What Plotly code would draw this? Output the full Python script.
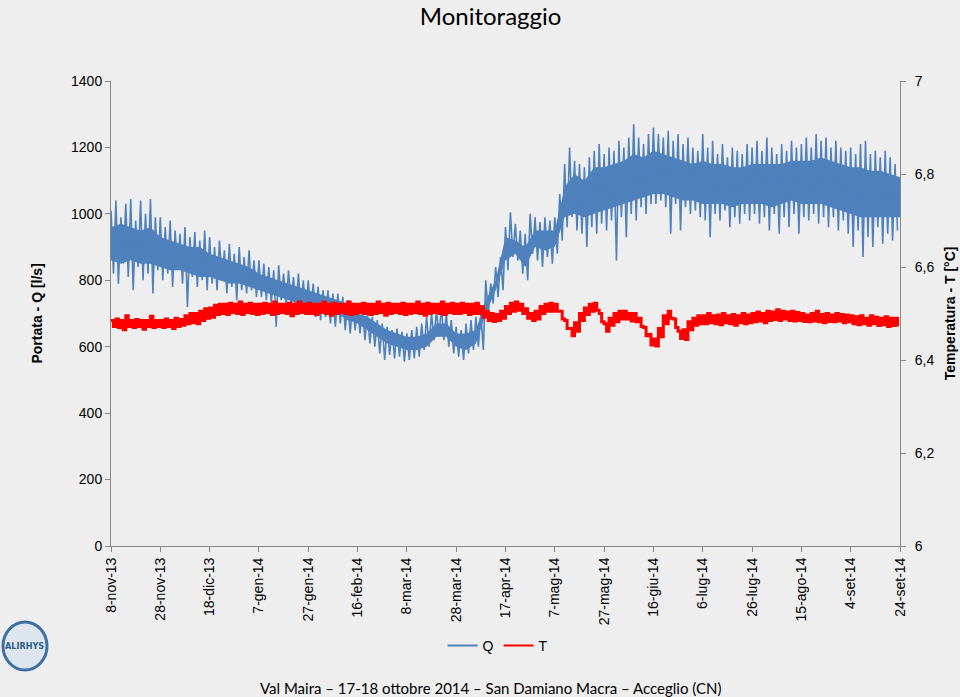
import pandas as pd
import plotly.graph_objects as go

# daily readings, one pair (peak, trough) every 2 days starting 8-nov-13
start_date = "2013-11-08"

q_hi = [1010, 1040, 990, 1030, 1045, 980, 1040, 1000, 1045, 990,
        990, 960, 980, 950, 940, 960, 930, 945, 920, 950,
        930, 900, 920, 890, 910, 880, 900, 870, 890, 860,
        860, 850, 840, 830, 845, 820, 830, 810, 820, 800,
        800, 790, 780, 770, 770, 760, 760, 750, 740, 730,
        720, 710, 700, 690, 680, 670, 660, 650, 655, 645,
        640, 650, 660, 670, 690, 700, 710, 720, 700, 680,
        660, 650, 670, 680, 690, 700, 800, 790, 840, 870,
        960, 1005, 970, 950, 940, 1000, 990, 975, 990, 980,
        990, 1060, 1150, 1200, 1160, 1150, 1140, 1170, 1190, 1210,
        1180, 1200, 1190, 1220, 1200, 1230, 1270, 1230, 1210, 1240,
        1260, 1240, 1230, 1250, 1220, 1240, 1210, 1230, 1200, 1190,
        1240, 1200, 1220, 1180, 1210, 1170, 1200, 1190, 1180, 1210,
        1200, 1220, 1190, 1230, 1200, 1180, 1210, 1190, 1220, 1200,
        1210, 1230, 1200, 1240, 1220, 1230, 1200, 1220, 1200, 1190,
        1200, 1180, 1210, 1220, 1180, 1190, 1170, 1190, 1170, 1150]

q_lo = [820, 790, 850, 810, 770, 840, 800, 820, 760, 830,
        800, 820, 780, 830, 790, 720, 810, 780, 800, 770,
        790, 770, 800, 760, 780, 740, 770, 760, 770, 750,
        750, 740, 730, 660, 740, 720, 730, 710, 720, 700,
        700, 690, 680, 690, 670, 660, 670, 650, 640, 650,
        640, 620, 610, 600, 580, 560, 575, 565, 570, 555,
        560, 565, 570, 590, 600, 620, 630, 620, 600, 580,
        570, 560, 580, 590, 600, 590, 700, 730, 750, 770,
        830, 870, 860, 820, 800, 880, 860, 840, 870, 850,
        880, 920, 960, 990, 950, 940, 900, 960, 940, 970,
        950, 980, 860, 990, 930, 1000, 980, 1020, 1000, 1030,
        1030, 1040, 1020, 940, 1030, 950, 1020, 1000, 1010, 990,
        980, 930, 1000, 980, 1010, 960, 990, 970, 1000, 980,
        1000, 970, 990, 950, 1000, 940, 990, 960, 1000, 940,
        990, 980, 1000, 970, 990, 960, 990, 950, 980, 940,
        900, 950, 870, 930, 900, 960, 910, 940, 920, 950]

# dense part of the Q band, every 4 days
q_core_hi = [960, 970, 960, 950, 960, 930, 920, 910, 900, 900,
             880, 870, 860, 850, 840, 820, 810, 800, 790, 780,
             770, 760, 750, 740, 730, 700, 690, 670, 650, 640,
             630, 630, 640, 670, 670, 640, 640, 650, 740, 800,
             930, 920, 900, 950, 950, 950, 1080, 1120, 1100, 1140,
             1140, 1150, 1160, 1180, 1170, 1190, 1180, 1170, 1160, 1150,
             1160, 1150, 1150, 1140, 1140, 1150, 1150, 1150, 1150, 1160,
             1160, 1160, 1170, 1160, 1150, 1140, 1140, 1130, 1130, 1120, 1110]
q_core_lo = [860, 850, 860, 850, 850, 840, 830, 830, 820, 810,
             810, 800, 790, 790, 780, 770, 760, 750, 740, 730,
             720, 710, 700, 700, 680, 670, 650, 630, 610, 600,
             590, 590, 600, 630, 630, 600, 590, 610, 700, 770,
             860, 880, 840, 900, 890, 900, 990, 1000, 990, 1000,
             1010, 1020, 1030, 1040, 1050, 1060, 1060, 1050, 1040, 1040,
             1030, 1030, 1030, 1020, 1030, 1030, 1030, 1020, 1030, 1040,
             1030, 1030, 1030, 1020, 1010, 1000, 990, 990, 990, 990, 990]

t_hi = [6.485, 6.488, 6.485, 6.495, 6.485, 6.487, 6.485, 6.485, 6.494, 6.485,
        6.485, 6.488, 6.485, 6.490, 6.487, 6.495, 6.500, 6.500, 6.505, 6.510,
        6.512, 6.518, 6.520, 6.520, 6.522, 6.520, 6.525, 6.520, 6.522, 6.520,
        6.520, 6.522, 6.520, 6.525, 6.520, 6.520, 6.522, 6.520, 6.525, 6.520,
        6.522, 6.520, 6.520, 6.525, 6.520, 6.522, 6.520, 6.520, 6.525, 6.520,
        6.520, 6.522, 6.520, 6.520, 6.525, 6.520, 6.522, 6.520, 6.520, 6.522,
        6.520, 6.520, 6.525, 6.520, 6.522, 6.520, 6.520, 6.525, 6.520, 6.522,
        6.520, 6.522, 6.520, 6.520, 6.522, 6.515, 6.505, 6.500, 6.498, 6.505,
        6.515, 6.522, 6.525, 6.520, 6.510, 6.500, 6.505, 6.515, 6.520, 6.522,
        6.520, 6.505, 6.485, 6.468, 6.480, 6.500, 6.512, 6.520, 6.522, 6.500,
        6.478, 6.490, 6.500, 6.505, 6.505, 6.500, 6.500, 6.490, 6.470, 6.455,
        6.445, 6.468, 6.495, 6.505, 6.488, 6.462, 6.465, 6.482, 6.490, 6.495,
        6.495, 6.500, 6.495, 6.497, 6.500, 6.495, 6.498, 6.495, 6.500, 6.497,
        6.500, 6.503, 6.500, 6.505, 6.503, 6.508, 6.505, 6.503, 6.505, 6.502,
        6.500, 6.497, 6.500, 6.505, 6.498, 6.500, 6.497, 6.500, 6.498, 6.497,
        6.495, 6.493, 6.495, 6.490, 6.495, 6.492, 6.490, 6.493, 6.490, 6.490]

t_lo = [6.472, 6.470, 6.465, 6.472, 6.470, 6.472, 6.466, 6.472, 6.470, 6.472,
        6.470, 6.472, 6.468, 6.472, 6.475, 6.478, 6.480, 6.478, 6.485, 6.490,
        6.492, 6.498, 6.500, 6.498, 6.502, 6.500, 6.498, 6.502, 6.500, 6.498,
        6.500, 6.502, 6.498, 6.500, 6.502, 6.500, 6.495, 6.500, 6.502, 6.500,
        6.500, 6.498, 6.502, 6.500, 6.496, 6.500, 6.502, 6.500, 6.498, 6.500,
        6.502, 6.500, 6.498, 6.500, 6.502, 6.496, 6.500, 6.502, 6.500, 6.498,
        6.500, 6.502, 6.500, 6.496, 6.500, 6.502, 6.500, 6.498, 6.502, 6.500,
        6.500, 6.502, 6.498, 6.500, 6.500, 6.492, 6.485, 6.483, 6.485, 6.490,
        6.500, 6.505, 6.507, 6.500, 6.490, 6.485, 6.488, 6.500, 6.505, 6.505,
        6.505, 6.488, 6.468, 6.452, 6.462, 6.485, 6.498, 6.505, 6.507, 6.482,
        6.462, 6.475, 6.482, 6.488, 6.488, 6.484, 6.482, 6.472, 6.452, 6.432,
        6.430, 6.450, 6.478, 6.490, 6.470, 6.446, 6.444, 6.465, 6.475, 6.478,
        6.478, 6.480, 6.478, 6.476, 6.480, 6.478, 6.475, 6.480, 6.478, 6.480,
        6.482, 6.484, 6.480, 6.485, 6.487, 6.485, 6.488, 6.485, 6.484, 6.485,
        6.483, 6.482, 6.484, 6.482, 6.480, 6.483, 6.482, 6.484, 6.480, 6.482,
        6.478, 6.476, 6.478, 6.475, 6.478, 6.474, 6.476, 6.472, 6.474, 6.472]

x_tickvals = ["2013-11-08", "2013-11-28", "2013-12-18", "2014-01-07", "2014-01-27",
              "2014-02-16", "2014-03-08", "2014-03-28", "2014-04-17", "2014-05-07",
              "2014-05-27", "2014-06-16", "2014-07-06", "2014-07-26", "2014-08-15",
              "2014-09-04", "2014-09-24"]
x_ticktext = ["8-nov-13", "28-nov-13", "18-dic-13", "7-gen-14", "27-gen-14",
              "16-feb-14", "8-mar-14", "28-mar-14", "17-apr-14", "7-mag-14",
              "27-mag-14", "16-giu-14", "6-lug-14", "26-lug-14", "15-ago-14",
              "4-set-14", "24-set-14"]
q_ticks = [0, 200, 400, 600, 800, 1000, 1200, 1400]
t_ticks = [6, 6.2, 6.4, 6.6, 6.8, 7]
t_ticktext = ["6", "6,2", "6,4", "6,6", "6,8", "7"]

# interleave peaks and troughs, one reading per day
dates = pd.date_range(start_date, periods=2 * len(q_hi), freq="D")
q_vals = [v for pair in zip(q_hi, q_lo) for v in pair]
t_vals = [v for pair in zip(t_hi, t_lo) for v in pair]
core_dates = pd.date_range(start_date, periods=len(q_core_hi), freq="4D")

bg = "#eeeeee"
axis_col = "#868686"
blue = "#4f81bd"
red = "#ff0000"
font = "Liberation Sans"

fig = go.Figure()
fig.add_trace(go.Scatter(x=core_dates, y=q_core_lo, mode="lines", showlegend=False,
                         line=dict(color=blue, width=0), hoverinfo="skip"))
fig.add_trace(go.Scatter(x=core_dates, y=q_core_hi, mode="lines", showlegend=False,
                         fill="tonexty", fillcolor=blue,
                         line=dict(color=blue, width=0), hoverinfo="skip"))
fig.add_trace(go.Scatter(x=dates, y=q_vals, mode="lines", name="Q", showlegend=False,
                         legendgroup="q", line=dict(color=blue, width=1.6)))
fig.add_trace(go.Scatter(x=dates, y=t_vals, mode="lines", name="T", yaxis="y2",
                         showlegend=False, legendgroup="t",
                         line=dict(color=red, width=3, shape="hv")))
# legend keys drawn with thin lines like the original
fig.add_trace(go.Scatter(x=[None], y=[None], mode="lines", name="Q", legendgroup="q",
                         line=dict(color=blue, width=2)))
fig.add_trace(go.Scatter(x=[None], y=[None], mode="lines", name="T", legendgroup="t",
                         line=dict(color=red, width=2)))

fig.update_layout(
    width=960, height=697,
    margin=dict(l=111, r=60, t=81, b=151),
    paper_bgcolor=bg, plot_bgcolor=bg,
    font=dict(family=font, size=14, color="#000000"),
    title=dict(text="Monitoraggio", x=0.511, xanchor="center", y=0.976, yanchor="middle",
               font=dict(family="Lato", size=24, color="#000000")),
    xaxis=dict(type="date", range=["2013-11-08", "2014-09-24"],
               tickvals=x_tickvals, ticktext=x_ticktext, tickangle=-90,
               showgrid=False, zeroline=False, showline=True, linecolor=axis_col,
               ticks="outside", ticklen=5, tickcolor=axis_col),
    yaxis=dict(range=[0, 1400], tickvals=q_ticks, showgrid=False, zeroline=False,
               showline=True, linecolor=axis_col, ticks="outside", ticklen=5,
               tickcolor=axis_col),
    yaxis2=dict(range=[6, 7], tickvals=t_ticks, ticktext=t_ticktext, overlaying="y",
                side="right", showgrid=False, zeroline=False, showline=True,
                linecolor=axis_col, ticks="outside", ticklen=5, tickcolor=axis_col,
                ticklabelstandoff=6),
    legend=dict(orientation="h", traceorder="normal", x=0.49, xanchor="center",
                y=-0.215, yanchor="middle", bgcolor="rgba(0,0,0,0)", font=dict(size=14)),
    annotations=[
        dict(text="<b>Portata - Q [l/s]</b>", xref="paper", yref="paper",
             x=-0.095, y=0.5, textangle=-90, showarrow=False,
             xanchor="center", yanchor="middle", font=dict(size=14)),
        dict(text="<b>Temperatura - T [°C]</b>", xref="paper", yref="paper",
             x=1.063, y=0.5, textangle=-90, showarrow=False,
             xanchor="center", yanchor="middle", font=dict(size=14)),
        dict(text="Val Maira – 17-18 ottobre 2014 – San Damiano Macra – Acceglio (CN)",
             xref="paper", yref="paper", x=(490 - 111) / 789, y=-0.305, showarrow=False,
             xanchor="center", yanchor="middle",
             font=dict(family="Lato", size=15, color="#000000")),
        dict(text="<b>ALIRHYS</b>", xref="paper", yref="paper",
             x=-0.1096, y=-0.215, showarrow=False, xanchor="center", yanchor="middle",
             font=dict(family="DejaVu Sans Condensed", size=9, color="#2f5d8c")),
    ],
    shapes=[
        dict(type="circle", xref="paper", yref="paper",
             x0=-0.1369, x1=-0.0811, y0=-0.2667, y1=-0.1634,
             line=dict(color="#3e6fa3", width=3), fillcolor="#dde6ef"),
    ],
)

fig.write_html("out.html", config={"displayModeBar": False},
               post_script="document.body.style.margin='0px';")
